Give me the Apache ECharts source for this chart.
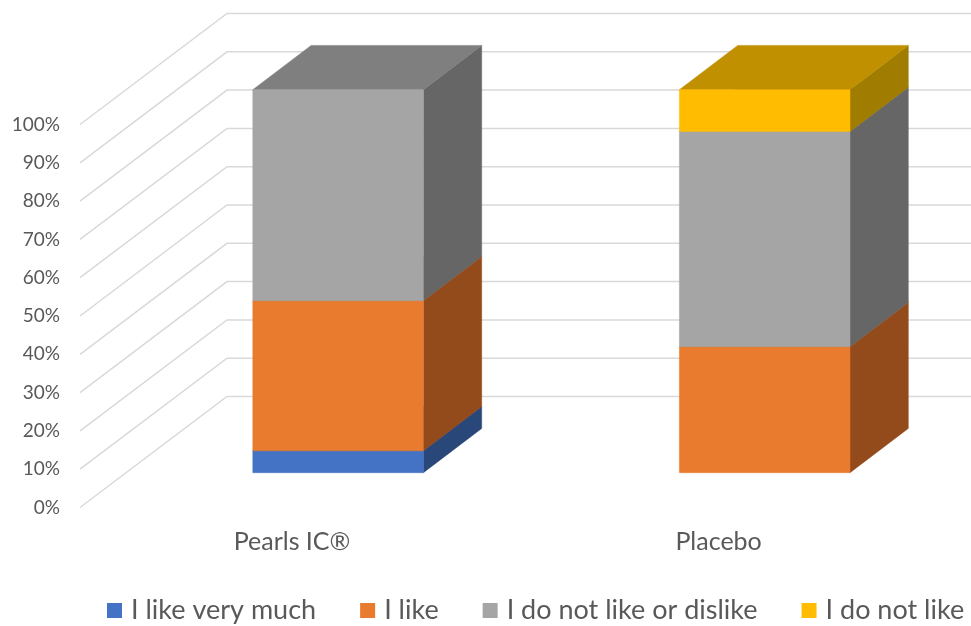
<!DOCTYPE html>
<html>
<head>
<meta charset="utf-8">
<script src="https://cdn.jsdelivr.net/npm/echarts@6/dist/echarts.min.js"></script>
<style>
  html, body { margin: 0; padding: 0; background: #fff; }
  #chart { width: 971px; height: 626px; }
</style>
</head>
<body>
<div id="chart"></div>
<script>
// values (percent of answers)
const categories = ['Pearls IC®', 'Placebo'];
const likeVeryMuch = [5.7, 0];
const like = [39.2, 32.9];
const neutral = [55.1, 56.2];
const dislike = [0, 10.9];
const gridValues = [0, 10, 20, 30, 40, 50, 60, 70, 80, 90, 100];

// fake 3d geometry (pixels)
const Y_OFFSET = 212;       // y axis pushed left from the grid
const WALL_DX = 147, WALL_DY = -111;
const FRONT_DX = 46.1, FRONT_DY = -34.8;
const DEPTH_DX = 58.3, DEPTH_DY = -44.3;
const HALF_W = 85.3;

const font = 'Lato, "Open Sans", sans-serif';

const chart = echarts.init(document.getElementById('chart'));

function wallItem(params, api) {
  const y = api.coord([0, api.value(1)])[1];
  const x0 = params.coordSys.x - Y_OFFSET;
  return {
    type: 'polyline',
    shape: {points: [[x0, y], [x0 + WALL_DX, y + WALL_DY], [975, y + WALL_DY]]},
    style: {stroke: '#d9d9d9', lineWidth: 1.5, fill: null}
  };
}

function boxRenderer(front, side, top) {
  return function (params, api) {
    const cat = api.value(0), lo = api.value(1), hi = api.value(2);
    if (hi - lo <= 0) return null;
    const p0 = api.coord([cat, lo]);
    const p1 = api.coord([cat, hi]);
    const cx = p0[0] + FRONT_DX;
    const y0 = p0[1] + FRONT_DY, y1 = p1[1] + FRONT_DY;
    const xl = cx - HALF_W, xr = cx + HALF_W;
    return {
      type: 'group',
      children: [
        {
          type: 'polygon',
          shape: {points: [[xr, y1], [xr + DEPTH_DX, y1 + DEPTH_DY], [xr + DEPTH_DX, y0 + DEPTH_DY], [xr, y0]]},
          style: {fill: side, stroke: side, lineWidth: 0.5}
        },
        {
          type: 'polygon',
          shape: {points: [[xl, y1], [xr, y1], [xr + DEPTH_DX, y1 + DEPTH_DY], [xl + DEPTH_DX, y1 + DEPTH_DY]]},
          style: {fill: top, stroke: top, lineWidth: 0.5}
        },
        {
          type: 'rect',
          shape: {x: xl, y: y1, width: 2 * HALF_W, height: y0 - y1},
          style: {fill: front, stroke: front, lineWidth: 0.5}
        }
      ]
    };
  };
}

// stack the segments
const segments = [
  {name: 'I like very much', values: likeVeryMuch, colors: ['#4472c4', '#2a4779', '#34579a']},
  {name: 'I like', values: like, colors: ['#e97b2f', '#944b1c', '#b35e24']},
  {name: 'I do not like or dislike', values: neutral, colors: ['#a5a5a5', '#666666', '#7f7f7f']},
  {name: 'I do not like', values: dislike, colors: ['#ffbc00', '#a07c00', '#c09000']}
];
const base = categories.map(() => 0);
const barSeries = segments.map(function (s) {
  const data = s.values.map(function (v, i) {
    const item = [i, base[i], base[i] + v];
    base[i] += v;
    return item;
  });
  return {
    type: 'custom',
    name: s.name,
    itemStyle: {color: s.colors[0]},
    encode: {x: 0, y: [1, 2]},
    renderItem: boxRenderer(s.colors[0], s.colors[1], s.colors[2]),
    data: data,
    z: 3
  };
});

chart.setOption({
  animation: false,
  grid: {left: 292, right: 252.4, top: 124.5, bottom: 118.5},
  xAxis: {
    type: 'category',
    data: categories,
    boundaryGap: false,
    axisLine: {show: false},
    axisTick: {show: false},
    axisLabel: {fontFamily: font, fontSize: 25, color: '#595959', margin: 22}
  },
  yAxis: {
    type: 'value',
    min: 0,
    max: 100,
    interval: 10,
    offset: Y_OFFSET,
    axisLine: {show: false},
    axisTick: {show: false},
    splitLine: {show: false},
    axisLabel: {formatter: '{value}%', fontFamily: font, fontSize: 19, color: '#595959', margin: 20}
  },
  legend: {
    data: segments.map(s => s.name),
    left: 107,
    top: 597,
    width: 900,
    padding: 0,
    icon: 'rect',
    itemWidth: 15,
    itemHeight: 15,
    itemGap: 44,
    textStyle: {fontFamily: font, fontSize: 27, color: '#595959', padding: [0, 0, 0, 4]}
  },
  series: [
    {
      type: 'custom',
      name: 'walls',
      encode: {x: 0, y: 1},
      renderItem: wallItem,
      data: gridValues.map(v => [0, v]),
      silent: true,
      z: 1
    }
  ].concat(barSeries)
});
</script>
</body>
</html>
